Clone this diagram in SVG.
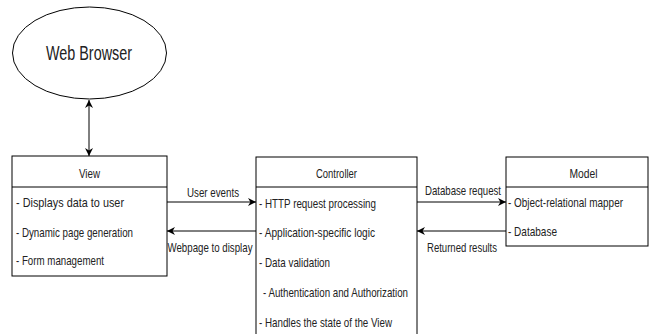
<svg xmlns="http://www.w3.org/2000/svg" width="649" height="334" viewBox="0 0 649 334">
<style>
.box{fill:#fff;stroke:#000;stroke-width:1}
.t{font-family:"Liberation Sans",Arial,sans-serif;font-size:13.5px;fill:#222}
.h{text-anchor:middle}
.c{fill:none;stroke:#000;stroke-width:1}
</style>
<defs>
<marker id="ah" viewBox="0 0 10 10" refX="10" refY="5" markerWidth="9" markerHeight="8" markerUnits="userSpaceOnUse" orient="auto-start-reverse">
<path d="M0,0 L10,5 L0,10 L3,5 z" fill="#000"/>
</marker>
</defs>
<rect width="649" height="334" fill="#fff"/>
<g id="browser">
<ellipse cx="89.5" cy="53" rx="77" ry="46" class="box"/>
<text class="t h" x="89" y="60" style="font-size:20px" textLength="86" lengthAdjust="spacingAndGlyphs">Web Browser</text>
</g>
<g id="view">
<rect x="12" y="156" width="155" height="120" class="box"/>
<line x1="12" y1="187" x2="167" y2="187" class="c"/>
<text class="t h" x="89.5" y="177.5" textLength="21" lengthAdjust="spacingAndGlyphs">View</text>
<text class="t" x="16" y="206.5" textLength="108" lengthAdjust="spacingAndGlyphs">- Displays data to user</text>
<text class="t" x="16" y="236.5" textLength="117" lengthAdjust="spacingAndGlyphs">- Dynamic page generation</text>
<text class="t" x="16" y="264.5" textLength="88" lengthAdjust="spacingAndGlyphs">- Form management</text>
</g>
<g id="controller">
<rect x="256" y="157" width="161" height="190" class="box"/>
<line x1="256" y1="187" x2="417" y2="187" class="c"/>
<text class="t h" x="336.5" y="177.5" textLength="41" lengthAdjust="spacingAndGlyphs">Controller</text>
<text class="t" x="259" y="207.5" textLength="117" lengthAdjust="spacingAndGlyphs">- HTTP request processing</text>
<text class="t" x="259" y="236.5" textLength="116" lengthAdjust="spacingAndGlyphs">- Application-specific logic</text>
<text class="t" x="259" y="266.5" textLength="71" lengthAdjust="spacingAndGlyphs">- Data validation</text>
<text class="t" x="263" y="296.5" textLength="145" lengthAdjust="spacingAndGlyphs">- Authentication and Authorization</text>
<text class="t" x="259" y="326.5" textLength="133" lengthAdjust="spacingAndGlyphs">- Handles the state of the View</text>
</g>
<g id="model">
<rect x="506" y="157" width="142" height="89" class="box"/>
<line x1="506" y1="187" x2="648" y2="187" class="c"/>
<text class="t h" x="583.5" y="177.5" textLength="28" lengthAdjust="spacingAndGlyphs">Model</text>
<text class="t" x="508" y="206.5" textLength="115" lengthAdjust="spacingAndGlyphs">- Object-relational mapper</text>
<text class="t" x="508" y="235.5" textLength="49" lengthAdjust="spacingAndGlyphs">- Database</text>
</g>
<g id="connectors">
<line x1="89" y1="100" x2="89" y2="156" class="c" marker-start="url(#ah)" marker-end="url(#ah)"/>
<line x1="167" y1="202" x2="256" y2="202" class="c" marker-end="url(#ah)"/>
<line x1="256" y1="231" x2="167" y2="231" class="c" marker-end="url(#ah)"/>
<line x1="417" y1="202" x2="506" y2="202" class="c" marker-end="url(#ah)"/>
<line x1="506" y1="231" x2="417" y2="231" class="c" marker-end="url(#ah)"/>
<text class="t h" x="213" y="196.5" textLength="52" lengthAdjust="spacingAndGlyphs">User events</text>
<text class="t h" x="210" y="251.5" textLength="85" lengthAdjust="spacingAndGlyphs">Webpage to display</text>
<text class="t h" x="463" y="194.5" textLength="76" lengthAdjust="spacingAndGlyphs">Database request</text>
<text class="t h" x="462" y="251.5" textLength="70" lengthAdjust="spacingAndGlyphs">Returned results</text>
</g>
</svg>
